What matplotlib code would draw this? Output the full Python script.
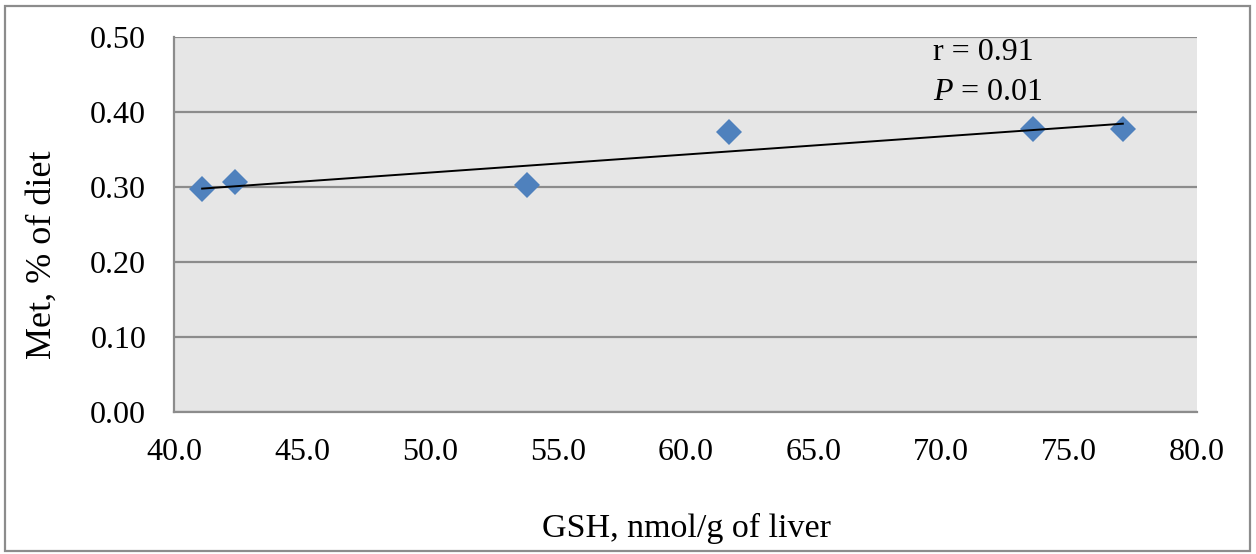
import numpy as np
import matplotlib
matplotlib.use("Agg")
import matplotlib.pyplot as plt
from matplotlib.patches import Rectangle

plt.rcParams['font.family'] = ['Liberation Serif', 'DejaVu Serif']
plt.rcParams['mathtext.fontset'] = 'custom'
plt.rcParams['mathtext.rm'] = 'Liberation Serif'
plt.rcParams['mathtext.it'] = 'Liberation Serif:italic'

# Data
gsh = [41.1, 42.4, 53.8, 61.7, 73.6, 77.1]
met = [0.297, 0.307, 0.303, 0.374, 0.377, 0.377]
x_ticks = [40.0, 45.0, 50.0, 55.0, 60.0, 65.0, 70.0, 75.0, 80.0]
y_ticks = [0.00, 0.10, 0.20, 0.30, 0.40, 0.50]
stat_r = "r = 0.91"
stat_p = "$P$ = 0.01"
x_label = "GSH, nmol/g of liver"
y_label = "Met, % of diet"

fig = plt.figure(figsize=(12.56, 5.54), dpi=100)
ax = fig.add_axes([174/1256, 1-412/554, (1197-174)/1256, (412-37)/554])

ax.set_facecolor('#E6E6E6')
ax.set_xlim(40, 80)
ax.set_ylim(0, 0.5)
ax.set_xticks(x_ticks)
ax.set_xticklabels([f"{v:.1f}" for v in x_ticks])
ax.set_yticks(y_ticks)
ax.set_yticklabels([f"{v:.2f}" for v in y_ticks])
ax.tick_params(axis='both', length=0, labelsize=23)
ax.tick_params(axis='y', pad=20)
ax.tick_params(axis='x', pad=19)

ax.grid(axis='y', color='#8C8C8C', linewidth=1.6)
ax.set_axisbelow(True)
for s in ['top', 'right']:
    ax.spines[s].set_visible(False)
for s in ['left', 'bottom']:
    ax.spines[s].set_color('#8C8C8C')
    ax.spines[s].set_linewidth(1.6)

# trendline
coef = np.polyfit(gsh, met, 1)
xs = np.array([min(gsh), max(gsh)])
ax.plot(xs, np.polyval(coef, xs), color='black', linewidth=1.4, zorder=3)

ax.plot(gsh, met, linestyle='none', marker='D', markersize=13,
        color='#4F81BD', markeredgewidth=0, zorder=2)

ax.text(0.742, 0.96, stat_r, transform=ax.transAxes, fontsize=23,
        ha='left', va='center')
ax.text(0.742, 0.853, stat_p, transform=ax.transAxes, fontsize=23,
        ha='left', va='center')

fig.text(686/1256, 1-528/554, x_label, fontsize=24.5, ha='center', va='center')
fig.text(42/1256, 1-255/554, y_label, fontsize=26, ha='center', va='center',
         rotation=90)

fig.patches.append(Rectangle((5/1256, 1-551/554), 1245/1256, 545/554,
                             transform=fig.transFigure, fill=False,
                             edgecolor='#8C8C8C', linewidth=1.6))

fig.savefig('out.png', dpi=100)
